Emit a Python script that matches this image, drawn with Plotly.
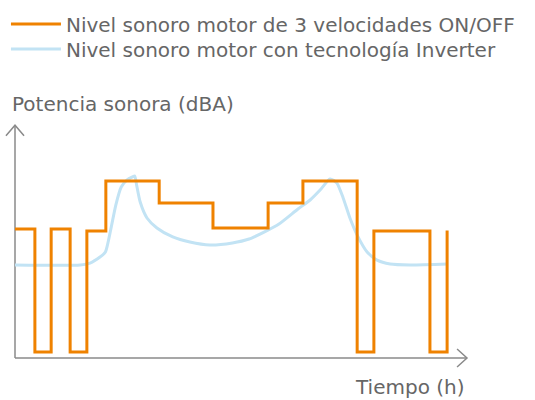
import plotly.graph_objects as go

# Nivel sonoro motor 3 velocidades ON/OFF (step points, hv)
onoff_t = [0, 4.4, 8.0, 12.2, 15.9, 20.1, 31.9, 43.8, 56.0, 63.7, 75.7, 79.4, 91.8, 95.6]
onoff_db = [55.8, 2.6, 55.8, 2.6, 55.0, 76.6, 67.1, 56.3, 67.1, 76.6, 2.6, 55.0, 2.6, 55.2]

# Nivel sonoro motor Inverter
inv_t = [0, 14.4, 16.6, 18.8, 20.0, 21.2, 22.3, 23.5, 24.8, 26.0, 26.5, 26.9, 27.7, 29.2,
         31.4, 34.9, 38.7, 43.1, 48.1, 51.8, 55.1, 58.4, 62.6, 65.3, 67.5, 69.7, 71.2,
         72.6, 74.1, 75.7, 77.9, 80.1, 83.0, 87.4, 95.8]
inv_db = [40.3, 40.3, 41.1, 43.7, 45.9, 55.8, 66.2, 74.0, 77.1, 78.4, 78.8, 74.9, 67.5, 60.6,
          56.3, 52.4, 50.2, 48.9, 49.8, 51.5, 54.5, 58.0, 64.5, 68.4, 72.7, 77.5, 75.8,
          69.3, 60.6, 53.2, 45.9, 42.4, 40.7, 40.3, 40.7]

ORANGE = "#EF8200"
BLUE = "#C2E3F4"
GREY = "#666666"
AXIS = "#8A8A8A"
FONT = "DejaVu Sans"

fig = go.Figure()
# azul primero para que el naranja quede encima
fig.add_trace(go.Scatter(x=inv_t, y=inv_db, mode="lines", line_shape="spline",
                         line=dict(color=BLUE, width=3, smoothing=0.6),
                         name="Nivel sonoro motor con tecnología Inverter",
                         cliponaxis=False, legend="legend2"))
fig.add_trace(go.Scatter(x=onoff_t, y=onoff_db, mode="lines", line_shape="hv",
                         line=dict(color=ORANGE, width=3),
                         name="Nivel sonoro motor de 3 velocidades ON/OFF",
                         cliponaxis=False, legend="legend"))

# ejes con flechas (en coordenadas paper para que no se recorten)
shapes = [
    dict(type="line", x0=0, y0=0, x1=0, y1=1.008, line=dict(color=AXIS, width=1.5)),
    dict(type="line", x0=0, y0=0, x1=1.0, y1=0, line=dict(color=AXIS, width=1.5)),
    dict(type="path", path="M -0.02,0.962 L 0,1.008 L 0.02,0.962",
         line=dict(color=AXIS, width=1.5)),
    dict(type="path", path="M 0.978,0.039 L 1.0,0 L 0.978,-0.039",
         line=dict(color=AXIS, width=1.5)),
]
for s in shapes:
    s.update(xref="paper", yref="paper", layer="below")

leg = dict(x=-0.02, xanchor="left", yanchor="top", itemwidth=50,
           font=dict(size=20, color=GREY), bgcolor="rgba(0,0,0,0)")

fig.update_layout(
    width=535, height=400,
    margin=dict(l=15, r=68, t=127, b=42, autoexpand=False),
    plot_bgcolor="white", paper_bgcolor="white",
    font=dict(family=FONT, color=GREY, size=20),
    shapes=shapes,
    showlegend=True,
    legend=dict(leg, y=1.53),
    legend2=dict(leg, y=1.422),
    xaxis=dict(range=[0, 100], visible=False, fixedrange=True),
    yaxis=dict(range=[0, 100], visible=False, fixedrange=True),
    annotations=[
        dict(text="Potencia sonora (dBA)", xref="paper", yref="paper",
             x=-0.011, y=1.099, xanchor="left", yanchor="middle", showarrow=False,
             font=dict(size=20, color=GREY)),
        dict(text="Tiempo (h)", xref="paper", yref="paper",
             x=1.0, y=-0.125, xanchor="right", yanchor="middle", showarrow=False,
             font=dict(size=20, color=GREY)),
    ],
)

fig.write_html("out.html", config={"displayModeBar": False},
               post_script="document.body.style.margin='0';")
